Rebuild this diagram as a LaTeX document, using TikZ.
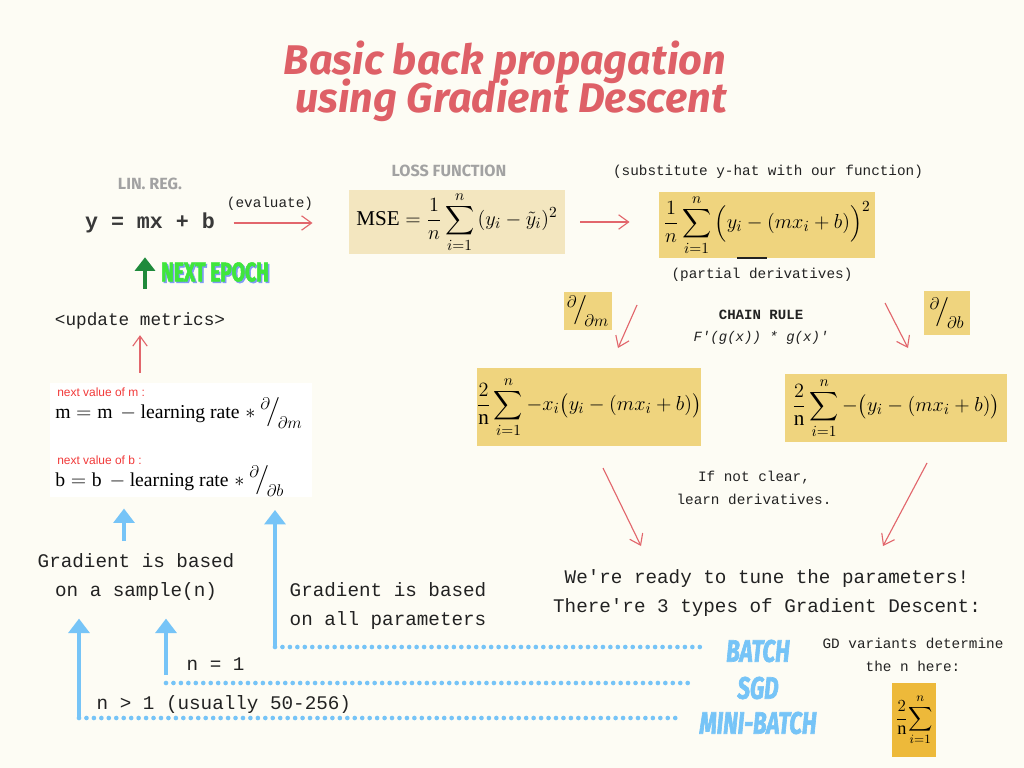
\documentclass[tikz,border=0pt]{standalone}
\usepackage{amsmath}
\usepackage{fontspec}
\setmainfont{Liberation Serif}
\setmonofont{Liberation Mono}
\newfontfamily\headfont{Fira Sans}
\newfontfamily\condfont{Fira Sans}[FakeStretch=0.72, FakeBold=2]
\newfontfamily\arialfont{Liberation Sans}
\usetikzlibrary{arrows.meta,calc,positioning}
\definecolor{Paper}{HTML}{FDFCF4}
\definecolor{Ink}{HTML}{222222}
\definecolor{Coral}{HTML}{DE6067}
\definecolor{Rose}{HTML}{E2666C}
\definecolor{Sand}{HTML}{EFD47E}
\definecolor{Beige}{HTML}{F3E6BF}
\definecolor{Amber}{HTML}{EDB93A}
\definecolor{Sky}{HTML}{76C4F7}
\definecolor{Leaf}{HTML}{1F8A3B}
\definecolor{Lime}{HTML}{3FE63B}
\definecolor{Haze}{HTML}{7F9BF5}
\definecolor{Grey}{HTML}{A2A2A2}
\definecolor{Alert}{HTML}{F23A3A}
\newcommand\dpart[1]{{}^{\partial}\!\big/_{\!\partial #1}}
\tikzset{
  mono/.style={font=\ttfamily\fontsize{13.7}{20}\selectfont, text=Ink, align=center, inner sep=1pt},
  note/.style={font=\ttfamily\fontsize{10.2}{16}\selectfont, text=Ink, align=center, inner sep=1pt},
  outl/.style={font=\headfont\bfseries\fontsize{11.5}{14}\selectfont, text=Grey, inner sep=1pt},
  fbox/.style={fill=Sand, inner sep=0pt, font=\fontsize{15}{18}\selectfont},
  hint/.style={font=\arialfont\fontsize{8.5}{10}\selectfont, text=Alert, inner sep=0pt, anchor=west},
  upd/.style={anchor=west, inner sep=0pt, font=\fontsize{14}{16}\selectfont},
  title/.style={font=\headfont\bfseries\itshape\fontsize{29.5}{32}\selectfont, text=Coral},
  gd/.style={font=\condfont\bfseries\itshape\fontsize{22}{24}\selectfont, text=Sky, inner sep=1pt},
  epoch/.style={font=\condfont\bfseries\fontsize{19}{22}\selectfont, text=Lime, inner sep=1pt},
  redarr/.style={-{Straight Barb[length=2.5mm,width=3.6mm]}, draw=Rose, line width=0.8pt},
  bluearr/.style={-{Triangle[length=3.6mm,width=5.2mm]}, draw=Sky, line width=2.9pt},
  greenarr/.style={-{Triangle[length=3.4mm,width=5mm]}, draw=Leaf, line width=3.4pt},
  dots/.style={draw=Sky, line width=3.3pt, line cap=round, dash pattern=on 0pt off 5.3pt}
}
\begin{document}
\begin{tikzpicture}[x=0.025cm, y=-0.025cm]
  \fill[Paper] (0,0) rectangle (1024,768);
  \useasboundingbox (0,0) rectangle (1024,768);

  \node[title] (head1) at (505,62) {Basic back propagation};
  \node[title] (head2) at (511,100) {using Gradient Descent};

  % model and loss
  \node[outl] (linlbl) at (150,184) {LIN. REG.};
  \node[mono, font=\ttfamily\bfseries\fontsize{15.4}{18}\selectfont, text=Ink!90] (lin) at (150,223) {y = mx + b};
  \node[note] (evallbl) at (270,204) {(evaluate)};
  \node[outl] (losslbl) at (449,171) {LOSS FUNCTION};
  \node[fbox, fill=Beige, minimum width=5.38cm, minimum height=1.62cm] (mse) at (457,222)
    {$\displaystyle\mathrm{MSE}=\frac{1}{n}\sum_{i=1}^{n}\,(y_i-\tilde{y}_i)^2$};
  \node[note] (sublbl) at (768,172) {(substitute y-hat with our function)};
  \node[fbox, minimum width=5.38cm, minimum height=1.65cm] (sq) at (767,225)
    {$\displaystyle\frac{1}{n}\sum_{i=1}^{n}\Big(y_i-(mx_i+b)\Big)^2$};
  \draw[Ink, line width=1.2pt] (737,258) -- (767,258);
  \node[note] (pdlbl) at (762,275) {(partial derivatives)};
  \draw[redarr, shorten <=12pt, shorten >=26pt] (lin.east) -- (lin.east -| mse.west);
  \draw[redarr, shorten <=11pt, shorten >=21pt] (mse.east) -- (mse.east -| sq.west);

  % partial derivatives
  \node[fbox, minimum width=1.18cm, minimum height=0.95cm, font=\fontsize{18}{20}\selectfont] (dm) at (588,311) {$\dpart{m}$};
  \node[fbox, minimum width=1.13cm, minimum height=1.08cm, font=\fontsize{18}{20}\selectfont] (db) at (947,313) {$\dpart{b}$};
  \node[note, font=\ttfamily\bfseries\fontsize{10}{14}\selectfont] (chain) at (761,315) {CHAIN RULE};
  \node[note, font=\ttfamily\itshape\fontsize{10}{14}\selectfont] (chainf) at (761,338) {F'(g(x)) * g(x)'};
  \node[fbox, minimum width=5.55cm, minimum height=1.95cm] (gm) at (589,407)
    {$\displaystyle\frac{2}{\mathrm{n}}\sum_{i=1}^{n}-x_i\big(y_i-(mx_i+b)\big)$};
  \node[fbox, minimum width=5.55cm, minimum height=1.7cm] (gb) at (896,408)
    {$\displaystyle\frac{2}{\mathrm{n}}\sum_{i=1}^{n}-\big(y_i-(mx_i+b)\big)$};
  \coordinate (dmtop) at (637,305);
  \coordinate (dmend) at (618,348);
  \coordinate (dbtop) at (885,303);
  \coordinate (dbend) at (908,348);
  \draw[redarr] (dmtop) -- (dmend);
  \draw[redarr] (dbtop) -- (dbend);
  \node[note] (hint) at (754,488) {If not clear,\\learn derivatives.};

  % gradient descent types
  \node[mono] (ready) at (767,593) {We're ready to tune the parameters!\\There're 3 types of Gradient Descent:};
  \coordinate (gmtail) at (603,468);
  \coordinate (gmhead) at (641,546);
  \coordinate (gbtail) at (927,463);
  \coordinate (gbhead) at (883,546);
  \draw[redarr] (gmtail) -- (gmhead);
  \draw[redarr] (gbtail) -- (gbhead);
  \node[gd] (batch) at (758,651) {BATCH};
  \node[gd] (sgd) at (758,688) {SGD};
  \node[gd] (mini) at (758,723) {MINI-BATCH};
  \node[note] (variants) at (913,655) {GD variants determine\\the n here:};
  \node[fbox, fill=Amber, minimum width=1.1cm, minimum height=1.85cm, font=\fontsize{13}{15}\selectfont] (nsum) at (914,720)
    {$\displaystyle\frac{2}{\mathrm{n}}\!\sum_{i=1}^{n}$};

  % update step
  \node[mono, font=\ttfamily\fontsize{12.6}{16}\selectfont] (upd) at (140,321) {<update metrics>};
  \node[fill=white, minimum width=6.55cm, minimum height=2.85cm, inner sep=0pt] (wb) at (181,440) {};
  \node[hint] (nextm) at (57,392) {next value of m :};
  \node[upd] (upm) at (55,413) {$\mathrm{m}=\mathrm{m}\,-\text{learning rate}\;\ast$\ \mbox{\fontsize{18}{20}\selectfont$\dpart{m}$}};
  \node[hint] (nextb) at (57,460) {next value of b :};
  \node[upd] (upb) at (55,481) {$\mathrm{b}=\mathrm{b}\,-\text{learning rate}\;\ast$\ \mbox{\fontsize{18}{20}\selectfont$\dpart{b}$}};
  \draw[redarr, shorten <=7pt, shorten >=3pt] (upd.south |- wb.north) -- (upd.south);
  \draw[greenarr, shorten <=16pt, shorten >=16pt] (145,0 |- upd.north) -- (145,0 |- lin.south);
  \node[epoch, text=Haze] (epochsh) at (216.5,273.5) {NEXT EPOCH};
  \node[epoch] (epoch) at (215,272) {NEXT EPOCH};

  % sample size
  \node[mono] (sample) at (136,577) {Gradient is based\\on a sample(n)};
  \node[mono] (allp) at (388,606) {Gradient is based\\on all parameters};
  \node[mono, anchor=west] (none) at (185,664) {n = 1};
  \node[mono, anchor=west] (nmany) at (95,705) {n > 1 (usually 50-256)};
  \coordinate (pb) at (275,647);
  \coordinate (ps) at (166,683);
  \coordinate (pm) at (79,718);
  \draw[dots, shorten >=15pt] (pb) -- (pb -| batch.west);
  \draw[dots, shorten >=34pt] (ps) -- (ps -| sgd.west);
  \draw[dots, shorten >=15pt] (pm) -- (pm -| mini.west);
  \draw[bluearr, shorten >=9pt] (pb) -- (pb |- wb.south);
  \draw[bluearr, shorten <=8pt, shorten >=8pt] (124,0 |- sample.north) -- (124,0 |- wb.south);
  \draw[bluearr, shorten <=6pt, shorten >=12pt] (ps) -- (ps |- sample.south);
  \draw[bluearr, shorten >=12pt] (pm) -- (pm |- sample.south);
\end{tikzpicture}
\end{document}
